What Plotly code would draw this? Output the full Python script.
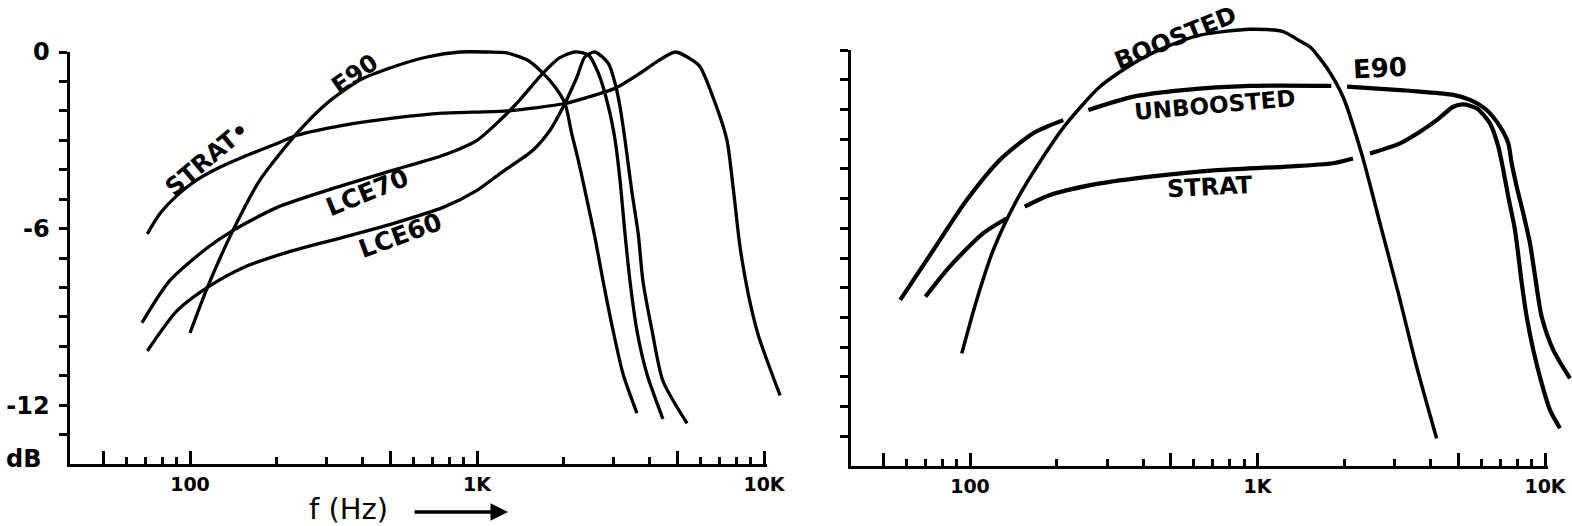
import plotly.graph_objects as go

W, H = 1572, 526

# ---------------- data (frequency in Hz, level in dB) ----------------
# Left panel
l_strat_f = [71, 78.5, 90, 103, 124, 153, 201, 236, 341, 509, 762, 1270, 2026, 2443, 3029, 3700, 4200, 4914, 5610, 5985, 6855, 7431, 7826, 8250, 8810, 9530, 10470, 11380]
l_strat_db = [-6.18, -5.5, -4.88, -4.42, -3.97, -3.57, -3.11, -2.83, -2.49, -2.25, -2.08, -2.0, -1.75, -1.53, -1.23, -0.72, -0.35, 0.0, -0.27, -0.5, -1.9, -3.0, -4.7, -6.62, -8.22, -9.59, -10.73, -11.67]

l_e90_f = [100, 115, 141, 175, 236, 300, 391, 509, 670, 873, 1100, 1270, 1506, 1698, 1871, 2026, 2138, 2254, 2377, 2576, 2748, 2980, 3228, 3608]
l_e90_db = [-9.55, -8.0, -6.07, -4.36, -2.76, -1.74, -0.95, -0.51, -0.17, 0.0, 0.0, -0.03, -0.29, -0.72, -1.19, -1.75, -2.77, -3.68, -4.7, -6.3, -7.77, -9.47, -10.94, -12.27]

l_lce70_f = [68, 85, 115, 141, 201, 300, 509, 762, 1000, 1202, 1406, 1698, 1938, 2193, 2443, 2650, 2870, 3029, 3150, 3280, 3411, 3608, 3909, 4445]
l_lce70_db = [-9.2, -7.77, -6.65, -6.07, -5.28, -4.7, -4.02, -3.51, -3.0, -2.32, -1.64, -0.72, -0.2, 0.0, -0.1, -0.73, -1.86, -3.0, -4.36, -6.2, -7.77, -9.47, -10.94, -12.47]

l_lce60_f = [71, 90, 115, 153, 228, 341, 509, 762, 1000, 1202, 1566, 1796, 1995, 2230, 2375, 2576, 2870, 3029, 3150, 3280, 3459, 3648, 3785, 4074, 4445, 5394]
l_lce60_db = [-10.16, -8.8, -8.0, -7.33, -6.75, -6.3, -5.83, -5.28, -4.7, -4.13, -3.34, -2.66, -1.87, -0.85, -0.17, 0.0, -0.39, -1.07, -1.86, -3.0, -4.7, -6.2, -7.77, -9.47, -11.18, -12.62]

# Right panel (None = pen lifted where lines cross)
r_boost_f = [93.6, 105.5, 120.5, 145.4, 179.8, 216.9, 283.5, 369.9, 483.3, 631, 941, 1228, 1406, 1524, 1742, 1988, 2304, 2667, 3090, 3578, 4197]
r_boost_db = [-10.21, -8.41, -6.73, -5.05, -3.59, -2.47, -1.23, -0.45, 0.11, 0.5, 0.7, 0.62, 0.3, 0.1, -0.6, -1.6, -3.5, -5.83, -8.19, -10.66, -13.07]

r_unboost_f = [57.2, 74.6, 97.4, 127, 166, 211, None, 258, 370, 552, 941, 1806, None, 2049, 3133, 3674, 4797, 5483, 6266, 6975, 7454, 7656, 7973, 8405, 8868, 9231, 9739, 10688, 12218]
r_unboost_db = [-8.41, -6.73, -5.05, -3.7, -2.8, -2.36, None, -2.02, -1.57, -1.35, -1.21, -1.21, None, -1.23, -1.35, -1.4, -1.51, -1.68, -2.02, -2.58, -3.14, -3.81, -4.6, -5.5, -6.51, -7.6, -8.98, -10.1, -11.05]

r_strat_f = [70, 85, 111, 134, None, 155, 190, 283, 423, 722, 1228, 1833, 2148, None, 2461, 3133, 3674, 4201, 4797, 5197, 5786, 6437, 6880, 7161, 7454, 7865, 8301, 8637, 9106, 9739, 10410, 11270]
r_strat_db = [-8.3, -7.29, -6.17, -5.67, None, -5.27, -4.88, -4.49, -4.26, -4.04, -3.93, -3.81, -3.65, None, -3.48, -3.14, -2.75, -2.36, -1.91, -1.83, -1.96, -2.47, -3.25, -4.04, -4.94, -6.06, -7.85, -8.98, -10.1, -11.22, -12.12, -12.73]

# axis ticks
x_major_vals = [50, 100, 500, 1000, 5000, 10000]
x_major_text = ["", "100", "", "1K", "", "10K"]
x_minor_vals = [60, 70, 80, 90, 200, 300, 400, 600, 700, 800, 900,
                2000, 3000, 4000, 6000, 7000, 8000, 9000]
y_tick_vals = [0, -1, -2, -3, -4, -5, -6, -7, -8, -9, -10, -11, -12, -13]
y_tick_text_left = ["0", "", "", "", "", "", "-6", "", "", "", "", "", "-12", ""]

# ---------------- geometry (pixels) ----------------
def fx(p):
    return p / W

def fy(p):
    return 1 - p / H

HAND = "DejaVu Sans"

panels = {
    "L": dict(ax_x=69.5, x100=190.0, dec=287.0, y0=52.0, ybot=464.0, ax_end=767.0, data_end=790.0),
    "R": dict(ax_x=851.0, x100=970.0, dec=287.5, y0=50.0, ybot=466.0, ax_end=1548.0, data_end=1572.0),
}

fig = go.Figure()

layout_axes = {}
names = {"L": ("", "2"), "R": ("3", "4")}
for key, g in panels.items():
    dname, aname = names[key]
    lx0 = 2 - (g["x100"] - g["ax_x"]) / g["dec"]
    lx_axis_end = 2 + (g["ax_end"] - g["x100"]) / g["dec"]
    lx_data_end = 2 + (g["data_end"] - g["x100"]) / g["dec"]
    ppd = (g["ybot"] - g["y0"]) / 14.0
    ytop_data = g["y0"] / ppd

    layout_axes["xaxis" + dname] = dict(type="log", range=[lx0, lx_data_end],
                                         domain=[fx(g["ax_x"]), min(1.0, fx(g["data_end"]))],
                                         visible=False, anchor="y" + dname, automargin=False)
    layout_axes["yaxis" + dname] = dict(range=[-14, ytop_data], domain=[fy(g["ybot"]), 1.0],
                                         visible=False, anchor="x" + dname, automargin=False)
    layout_axes["xaxis" + aname] = dict(
        type="log", range=[lx0, lx_axis_end], automargin=False,
        domain=[fx(g["ax_x"]), fx(g["ax_end"])], anchor="y" + aname,
        showline=True, linewidth=3, linecolor="black", showgrid=False, zeroline=False,
        tickmode="array", tickvals=x_major_vals, ticktext=x_major_text,
        ticks="inside", ticklen=13, tickwidth=2.5, tickcolor="black",
        ticklabelstandoff=1,
        tickfont=dict(family=HAND, size=19, color="black", weight="bold"),
        minor=dict(tickmode="array", tickvals=x_minor_vals, ticks="inside",
                   ticklen=7, tickwidth=2.5, tickcolor="black", showgrid=False),
    )
    layout_axes["yaxis" + aname] = dict(
        range=[-14, 0], domain=[fy(g["ybot"]), fy(g["y0"])], anchor="x" + aname,
        automargin=False,
        showline=True, linewidth=3, linecolor="black", showgrid=False, zeroline=False,
        tickmode="array", tickvals=y_tick_vals,
        ticktext=y_tick_text_left if key == "L" else [""] * len(y_tick_vals),
        ticks="outside", ticklen=8, tickwidth=3, tickcolor="black",
        ticklabelstandoff=4,
        tickfont=dict(family=HAND, size=24, color="black", weight="bold"),
    )
    fig.add_trace(go.Scatter(x=[], y=[], xaxis="x" + aname, yaxis="y" + aname,
                             showlegend=False, hoverinfo="skip"))

def curve(f, db, xa, ya, w):
    fig.add_trace(go.Scatter(x=f, y=db, mode="lines", xaxis=xa, yaxis=ya,
                             line=dict(color="black", width=w, shape="spline", smoothing=0.7),
                             connectgaps=False, showlegend=False, hoverinfo="skip"))

curve(l_strat_f, l_strat_db, "x", "y", 3.3)
curve(l_e90_f, l_e90_db, "x", "y", 3.3)
curve(l_lce70_f, l_lce70_db, "x", "y", 3.3)
curve(l_lce60_f, l_lce60_db, "x", "y", 3.3)

curve(r_boost_f, r_boost_db, "x3", "y3", 3.5)
curve(r_unboost_f, r_unboost_db, "x3", "y3", 4.2)
curve(r_strat_f, r_strat_db, "x3", "y3", 4.2)

labels = [
    ("STRAT•", 208, 158, -40, 24),
    ("E90", 355, 74, -35, 24),
    ("LCE70", 367, 192, -22, 25),
    ("LCE60", 400, 235, -20, 25),
    ("BOOSTED", 1175, 38, -22, 24),
    ("UNBOOSTED", 1215, 105, -5, 23),
    ("STRAT", 1210, 187, -3, 24),
    ("E90", 1380, 68, -3, 26),
]
annotations = []
for txt, x, y, ang, sz in labels:
    annotations.append(dict(text=txt, x=fx(x), y=fy(y), xref="paper", yref="paper",
                            showarrow=False, textangle=ang, xanchor="center", yanchor="middle",
                            font=dict(family=HAND, size=sz, color="black", weight="bold")))

annotations.append(dict(text="dB", x=fx(23), y=fy(459), xref="paper", yref="paper",
                        showarrow=False, xanchor="center", yanchor="middle",
                        font=dict(family=HAND, size=24, color="black", weight="bold")))
annotations.append(dict(text="f (Hz)", x=fx(348), y=fy(509), xref="paper", yref="paper",
                        showarrow=False, xanchor="center", yanchor="middle",
                        font=dict(family=HAND, size=29, color="black")))
annotations.append(dict(text="", x=fx(508), y=fy(512), xref="paper", yref="paper",
                        showarrow=True, ax=-95, ay=0, arrowhead=2, arrowsize=1,
                        arrowwidth=3.5, arrowcolor="black"))

fig.update_layout(
    width=W, height=H,
    margin=dict(l=0, r=0, t=0, b=0, pad=0, autoexpand=False),
    paper_bgcolor="white", plot_bgcolor="rgba(0,0,0,0)",
    showlegend=False,
    annotations=annotations,
    **layout_axes,
)

pin_script = (
    "document.documentElement.style.margin='0';"
    "document.body.style.margin='0';"
    "document.documentElement.style.overflow='hidden';"
    "document.body.style.overflow='hidden';"
    "var gd=document.getElementById('{plot_id}');"
    "gd.style.position='fixed';gd.style.left='0px';gd.style.top='0px';"
)

fig.write_html("out.html", config={"displayModeBar": False}, post_script=pin_script)
